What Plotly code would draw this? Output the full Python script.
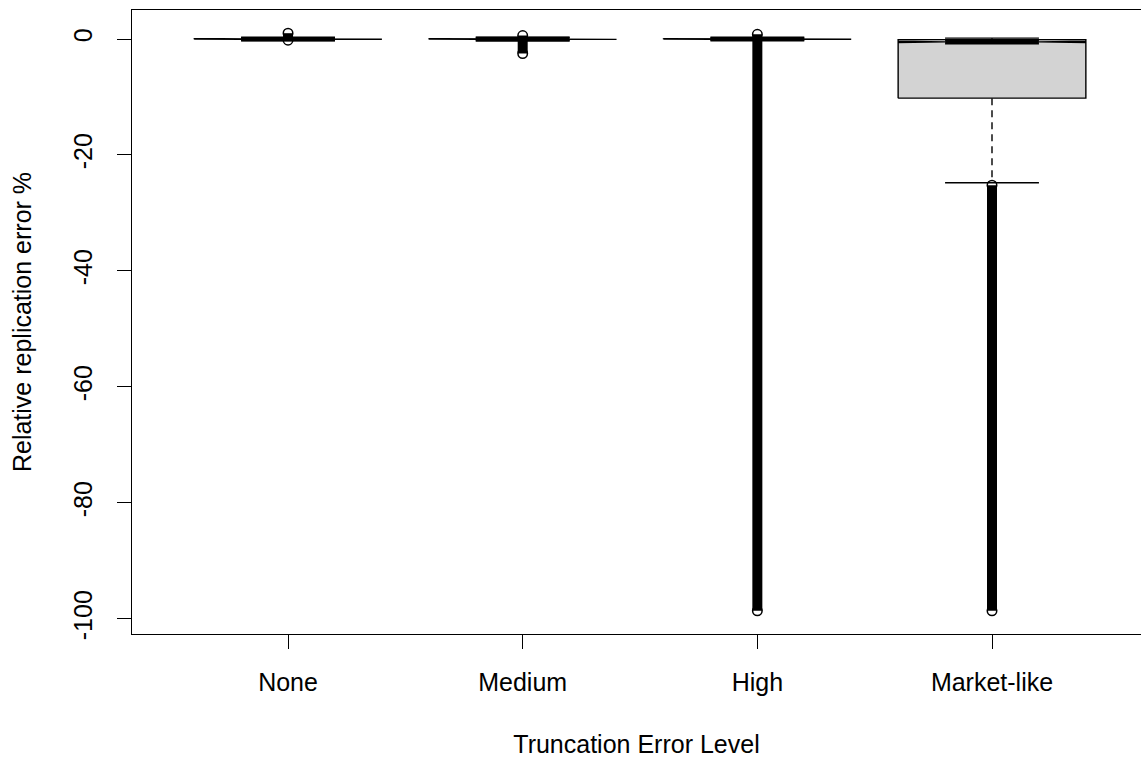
import plotly.graph_objects as go

# Boxplot summary of relative replication error by truncation level
categories = ["None", "Medium", "High", "Market-like"]
lower_whisker = [-0.25, -0.3, -0.2, -24.8]
q1 = [-0.05, -0.06, -0.05, -10.2]
median = [0.0, -0.02, 0.0, -0.5]
q3 = [0.05, 0.05, 0.05, -0.1]
upper_whisker = [0.22, 0.25, 0.18, 0.15]
notch_half = [0.002, 0.002, 0.002, 0.12]
# range covered by the (very dense) outlying points
outlier_max = [1.0, 0.6, 0.8, -25.2]
outlier_min = [-0.2, -2.5, -98.6, -98.6]

y_tick_vals = [0, -20, -40, -60, -80, -100]
y_tick_text = ["0", "-20", "-40", "-60", "-80", "-100"]

FONT = "Liberation Sans, Arial, sans-serif"
HALF = 0.4      # half box width
STAPLE = 0.2    # half staple / notch width
LINE_W = 1.4

positions = [i + 1 for i in range(len(categories))]

fig = go.Figure()


def seg_trace(xs, ys, width, dash="solid", color="black"):
    fig.add_trace(go.Scatter(x=xs, y=ys, mode="lines",
                             line=dict(color=color, width=width, dash=dash),
                             hoverinfo="skip", showlegend=False))


# whiskers
wx, wy = [], []
for p, lo, a, b, hi in zip(positions, lower_whisker, q1, q3, upper_whisker):
    wx += [p, p, None, p, p, None]
    wy += [a, lo, None, b, hi, None]
seg_trace(wx, wy, LINE_W, dash="7px,5px")

# staples
sx, sy = [], []
for p, lo, hi in zip(positions, lower_whisker, upper_whisker):
    sx += [p - STAPLE, p + STAPLE, None, p - STAPLE, p + STAPLE, None]
    sy += [lo, lo, None, hi, hi, None]
seg_trace(sx, sy, LINE_W)

# notched boxes
for p, a, m, b, n in zip(positions, q1, median, q3, notch_half):
    bx = [p - HALF, p - HALF, p - STAPLE, p - HALF, p - HALF,
          p + HALF, p + HALF, p + STAPLE, p + HALF, p + HALF, p - HALF]
    by = [a, m - n, m, m + n, b, b, m + n, m, m - n, a, a]
    fig.add_trace(go.Scatter(x=bx, y=by, mode="lines", fill="toself",
                             fillcolor="#D3D3D3",
                             line=dict(color="black", width=LINE_W),
                             hoverinfo="skip", showlegend=False))

# medians
mx, my = [], []
for p, m in zip(positions, median):
    mx += [p - STAPLE, p + STAPLE, None]
    my += [m, m, None]
seg_trace(mx, my, 5)

# outlying points: dense runs of open circles
ox, oy = [], []
for p, top, bot in zip(positions, outlier_max, outlier_min):
    ox += [p, p, None]
    oy += [top, bot, None]
seg_trace(ox, oy, 10)
fig.add_trace(go.Scatter(
    x=positions + positions, y=outlier_max + outlier_min, mode="markers",
    marker=dict(symbol="circle-open", size=9.5, color="black",
                line=dict(color="black", width=1.5)),
    hoverinfo="skip", showlegend=False))

fig.update_layout(
    width=1141, height=761,
    margin=dict(l=132, r=0, t=10, b=127),
    paper_bgcolor="white", plot_bgcolor="white",
    font=dict(family=FONT, size=25, color="black"),
    xaxis=dict(range=[0.335, 4.635], tickmode="array", tickvals=positions,
               ticktext=categories, ticks="outside", ticklen=14,
               tickwidth=LINE_W, tickcolor="black", showgrid=False,
               zeroline=False, showline=True, linecolor="black",
               linewidth=LINE_W, mirror=True, ticklabelstandoff=12,
               tickfont=dict(size=25),
               title=dict(text="Truncation Error Level", standoff=40,
                          font=dict(size=25))),
    yaxis=dict(range=[-102.6, 5.0], tickmode="array", tickvals=y_tick_vals,
               ticktext=y_tick_text, tickangle=-90, ticks="outside",
               ticklen=14, tickwidth=LINE_W, tickcolor="black",
               showgrid=False, zeroline=False, showline=True,
               linecolor="black", linewidth=LINE_W, mirror=False,
               ticklabelstandoff=15, tickfont=dict(size=25),
               title=dict(text="Relative replication error %", standoff=30,
                          font=dict(size=25))),
)

fig.write_html("out.html")
